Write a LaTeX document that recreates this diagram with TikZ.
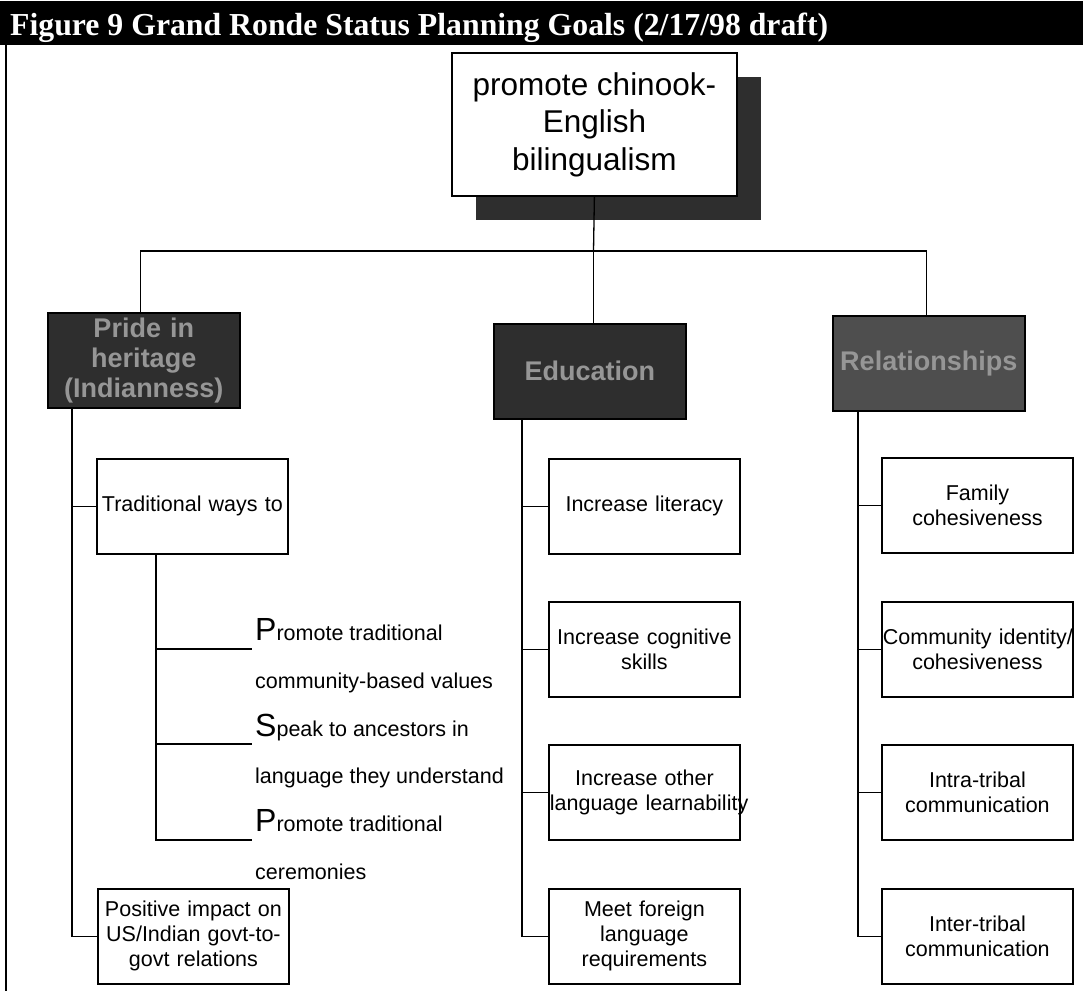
\documentclass[tikz,border=0pt]{standalone}
\usepackage{fontspec}
\usepackage{graphicx}
\setmainfont{Liberation Sans}
\newfontfamily\titlefont{Liberation Serif}
\definecolor{darkfill}{HTML}{2E2E2E}
\definecolor{darkfillb}{HTML}{4E4E4E}
\definecolor{darktext}{HTML}{969696}
\begin{document}
\begin{tikzpicture}[x=1pt,y=-1pt,
  box/.style={draw, line width=1.8pt, fill=white, anchor=north west, minimum width=191pt, minimum height=95pt, inner sep=0pt, text width=189pt, align=center, font=\fontsize{21.5}{25}\selectfont},
  dark/.style={draw=black, line width=1.5pt, fill=darkfill, anchor=north west, minimum width=192pt, minimum height=95pt, inner sep=0pt, text width=190pt, align=center, text=darktext, font=\bfseries\fontsize{27}{30}\selectfont},
  conn/.style={line width=1.3pt},
  subtext/.style={anchor=base west, inner sep=0pt, font=\fontsize{21.5}{25}\selectfont}
]
\useasboundingbox (0,0) rectangle (1083,991);
\fill[white] (0,0) rectangle (1083,991);
% title bar
\fill[black] (0,1) rectangle (1083,45);
\node[anchor=base west, inner sep=0pt, text=white] (title) at (10,35)
  {\resizebox{818pt}{\height}{\titlefont\bfseries\fontsize{32}{32}\selectfont Figure 9 Grand Ronde Status Planning Goals (2/17/98 draft)}};
% left frame line
\draw[line width=1.5pt] (6,45) -- (6,991);

% root with shadow
\fill[darkfill] (476,77) rectangle (761,220);
\node[draw, line width=1.8pt, fill=white, anchor=north west, minimum width=285pt, minimum height=143pt, inner sep=0pt, align=center, font=\fontsize{31.5}{37.5}\selectfont] (root) at (451,52) {promote chinook-\\English\\bilingualism};

% dark category boxes
\node[dark] (pride) at (47,312) {Pride in\\heritage\\(Indianness)};
\node[dark] (edu) at (493,323) {Education};
\node[dark, fill=darkfillb] (rel) at (832,315) {Relationships};

\coordinate (hub) at (593.5,251);
\draw[conn] (root.south) -- (hub);
\draw[conn] (hub) -| ([xshift=-3pt]pride.north);
\draw[conn] (hub) -- (hub |- edu.north);
\draw[conn] (hub) -| ([xshift=-2pt]rel.north);

% Pride column
\node[box] (trad) at (96,458) {Traditional ways to};
\node[box] (pos) at (97,888) {Positive impact on\\US/Indian govt-to-\\govt relations};
\coordinate (ptop) at ([xshift=25pt]pride.south west);
\draw[conn] (ptop) |- (pos.west);
\draw[conn] (ptop |- trad.west) -- (trad.west);

% sub items of Traditional ways to
\coordinate (ttop) at ([xshift=60pt]trad.south west);
\coordinate (s1) at (252,649);
\coordinate (s2) at (252,744);
\coordinate (s3) at (252,840);
\draw[conn] (ttop) |- (s3);
\draw[conn] (ttop |- s1) -- (s1);
\draw[conn] (ttop |- s2) -- (s2);
\node[subtext] (a1) at (255,640) {{\fontsize{32}{32}\selectfont P}romote traditional};
\node[subtext] (a2) at (255,688) {community-based values};
\node[subtext] (b1) at (255,736) {{\fontsize{32}{32}\selectfont S}peak to ancestors in};
\node[subtext] (b2) at (255,783) {language they understand};
\node[subtext] (c1) at (255,831) {{\fontsize{32}{32}\selectfont P}romote traditional};
\node[subtext] (c2) at (255,879) {ceremonies};

% Education column
\node[box] (e1) at (548,458) {Increase literacy};
\node[box] (e2) at (548,601) {\mbox{Increase cognitive}\\skills};
\node[box] (e3) at (548,744) {Increase other\\\mbox{language learnability}};
\node[box] (e4) at (548,888) {Meet foreign\\language\\requirements};
\coordinate (etop) at ([xshift=29pt]edu.south west);
\draw[conn] (etop) |- (e4.west);
\foreach \n in {e1,e2,e3} \draw[conn] (etop |- \n.west) -- (\n.west);

% Relationships column
\node[box] (r1) at (881,457) {Family\\cohesiveness};
\node[box] (r2) at (881,601) {\mbox{Community identity/}\\cohesiveness};
\node[box] (r3) at (881,744) {Intra-tribal\\communication};
\node[box] (r4) at (881,888) {Inter-tribal\\communication};
\coordinate (rtop) at ([xshift=26pt]rel.south west);
\draw[conn] (rtop) |- (r4.west);
\foreach \n in {r1,r2,r3} \draw[conn] (rtop |- \n.west) -- (\n.west);
\end{tikzpicture}
\end{document}
